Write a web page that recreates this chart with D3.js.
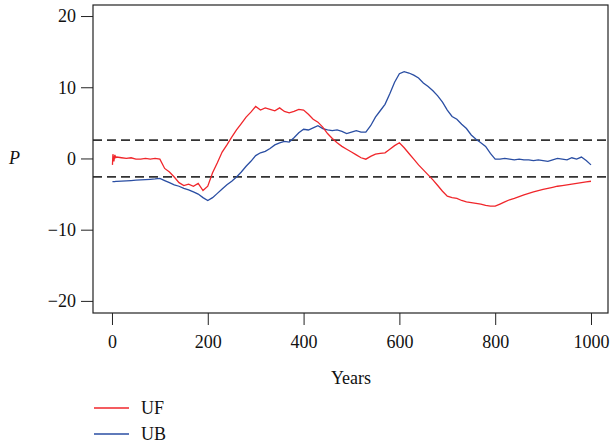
<!DOCTYPE html>
<html>
<head>
<meta charset="utf-8">
<style>
  body { margin: 0; background: #fff; }
  svg { font-family: "Liberation Serif", "DejaVu Serif", serif; }
  .tick line { stroke: #222; }
</style>
<script src="https://cdn.jsdelivr.net/npm/d3@7"></script>
</head>
<body>
<script>
  // years sampled (a few extra at the start for the UF spike)
  var years = [1, 2, 4, 6, 8, 10, 20, 30, 40, 50, 60, 70, 80, 90, 100,
    110, 120, 130, 140, 150, 160, 170, 180, 190, 200,
    210, 220, 230, 240, 250, 260, 270, 280, 290, 300,
    310, 320, 330, 340, 350, 360, 370, 380, 390, 400,
    410, 420, 430, 440, 450, 460, 470, 480, 490, 500,
    510, 520, 530, 540, 550, 560, 570, 580, 590, 600,
    610, 620, 630, 640, 650, 660, 670, 680, 690, 700,
    710, 720, 730, 740, 750, 760, 770, 780, 790, 800,
    810, 820, 830, 840, 850, 860, 870, 880, 890, 900,
    910, 920, 930, 940, 950, 960, 970, 980, 990, 1000];

  var ufValues = [-0.9, 0.6, -0.4, 0.5, 0.1, 0.2, 0.1, 0.0, 0.1, -0.1, -0.1, 0.0, -0.1, 0.0, -0.1,
    -1.4, -1.9, -2.6, -3.4, -3.8, -3.6, -3.9, -3.5, -4.5, -3.9,
    -2.0, -0.6, 0.9, 1.9, 3.0, 4.0, 4.9, 5.8, 6.5, 7.3,
    6.8, 7.1, 6.9, 6.7, 7.1, 6.6, 6.4, 6.6, 6.9, 6.8,
    6.2, 5.5, 5.1, 4.4, 3.5, 2.8, 2.2, 1.7, 1.3, 0.9,
    0.5, 0.1, -0.1, 0.3, 0.6, 0.7, 0.8, 1.3, 1.8, 2.2,
    1.5, 0.7, -0.1, -0.9, -1.6, -2.3, -3.0, -3.8, -4.6, -5.3,
    -5.5, -5.6, -5.9, -6.1, -6.2, -6.3, -6.4, -6.6, -6.7, -6.7,
    -6.4, -6.1, -5.8, -5.6, -5.35, -5.1, -4.9, -4.7, -4.5, -4.35,
    -4.2, -4.05, -3.9, -3.8, -3.7, -3.6, -3.5, -3.4, -3.3, -3.2];

  var ubValues = [-3.25, -3.25, -3.24, -3.24, -3.23, -3.22, -3.18, -3.14, -3.1, -3.05, -3.0, -2.97, -2.93, -2.88, -2.8,
    -3.1, -3.4, -3.7, -3.9, -4.2, -4.4, -4.7, -5.0, -5.5, -5.9,
    -5.5, -4.9, -4.3, -3.7, -3.2, -2.6, -1.9, -1.1, -0.4, 0.4,
    0.8, 1.0, 1.4, 1.9, 2.2, 2.4, 2.3, 2.9, 3.6, 4.1,
    4.0, 4.3, 4.6, 4.2, 4.0, 3.9, 4.0, 3.8, 3.5, 3.7,
    3.9, 3.7, 3.7, 4.6, 5.8, 6.7, 7.6, 9.1, 10.7, 11.9,
    12.2, 12.0, 11.7, 11.3, 10.6, 10.1, 9.5, 8.8, 7.9, 6.8,
    5.9, 5.5, 4.8, 4.2, 3.3, 2.7, 2.2, 1.7, 0.7, -0.1,
    -0.1, 0.0, -0.1, -0.2, -0.1, -0.2, -0.2, -0.3, -0.2, -0.3,
    -0.4, -0.2, 0.0, -0.1, -0.2, 0.1, -0.1, 0.2, -0.3, -0.9];

  var critical = [2.58, -2.58];
  var xTicks = [0, 200, 400, 600, 800, 1000];
  var yTicks = [-20, -10, 0, 10, 20];

  var padL = 93, padR = 608, padT = 5, padB = 313;

  var svg = d3.select("body").append("svg")
    .attr("width", 611)
    .attr("height", 447);

  var x = d3.scaleLinear().domain([-39.6, 1035.5]).range([padL, padR]);
  var y = d3.scaleLinear().domain([-21.7, 21.55]).range([padB, padT]);

  // dashed critical lines
  svg.selectAll("line.crit")
    .data(critical)
    .enter().append("line")
      .attr("class", "crit")
      .attr("x1", padL).attr("x2", padR)
      .attr("y1", function(d) { return y(d); })
      .attr("y2", function(d) { return y(d); })
      .attr("stroke", "#333")
      .attr("stroke-width", 1.6)
      .attr("stroke-dasharray", "9,5");

  var line = d3.line()
    .x(function(d, i) { return x(years[i]); })
    .y(function(d) { return y(d); });

  svg.append("path")
    .datum(ubValues)
    .attr("d", line)
    .attr("fill", "none")
    .attr("stroke", "#2a4ea3")
    .attr("stroke-width", 1.3);

  svg.append("path")
    .datum(ufValues)
    .attr("d", line)
    .attr("fill", "none")
    .attr("stroke", "#f0262b")
    .attr("stroke-width", 1.3);

  // box
  svg.append("rect")
    .attr("x", padL).attr("y", padT)
    .attr("width", padR - padL).attr("height", padB - padT)
    .attr("fill", "none")
    .attr("stroke", "#222")
    .attr("stroke-width", 1.2);

  var fmt = d3.format("d");

  var yAxis = svg.append("g")
    .attr("transform", "translate(" + padL + ",0)")
    .call(d3.axisLeft(y).tickValues(yTicks).tickFormat(fmt).tickSize(12).tickPadding(5));
  yAxis.select(".domain").remove();

  var xAxis = svg.append("g")
    .attr("transform", "translate(0," + padB + ")")
    .call(d3.axisBottom(x).tickValues(xTicks).tickFormat(fmt).tickSize(12).tickPadding(10));
  xAxis.select(".domain").remove();

  svg.selectAll(".tick text")
    .attr("font-family", "Liberation Serif, DejaVu Serif, serif")
    .attr("font-size", 18)
    .attr("fill", "#111");

  svg.append("text")
    .attr("x", 351).attr("y", 384)
    .attr("text-anchor", "middle")
    .attr("font-size", 18)
    .attr("fill", "#111")
    .text("Years");

  svg.append("text")
    .attr("x", 9).attr("y", 164)
    .attr("font-size", 18)
    .attr("font-style", "italic")
    .attr("fill", "#111")
    .text("P");

  // legend
  var legend = [{ name: "UF", color: "#f0262b" }, { name: "UB", color: "#2a4ea3" }];
  var lg = svg.selectAll("g.legend")
    .data(legend)
    .enter().append("g")
      .attr("class", "legend")
      .attr("transform", function(d, i) { return "translate(0," + (408 + i * 26) + ")"; });
  lg.append("line")
    .attr("x1", 94).attr("x2", 129)
    .attr("stroke", function(d) { return d.color; })
    .attr("stroke-width", 1.3);
  lg.append("text")
    .attr("x", 141).attr("y", 6)
    .attr("font-size", 18)
    .attr("fill", "#111")
    .text(function(d) { return d.name; });
</script>
</body>
</html>
